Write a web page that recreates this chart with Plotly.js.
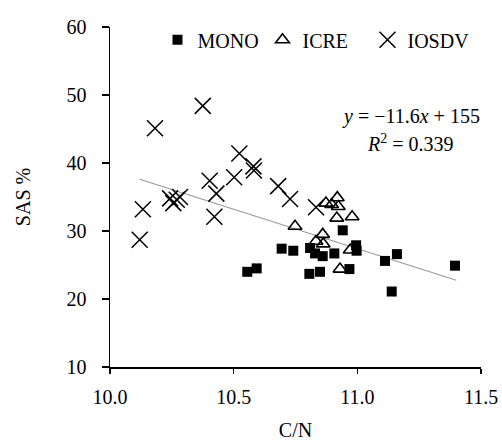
<!DOCTYPE html>
<html>
<head>
<meta charset="utf-8">
<script src="https://cdn.plot.ly/plotly-3.0.1.min.js"></script>
<style>html,body{margin:0;padding:0;background:#fff;}#chart{width:502px;height:441px;}</style>
</head>
<body>
<div id="chart"></div>
<script>
// MONO series
const monoX = [10.555, 10.593, 10.694, 10.741, 10.806, 10.809, 10.829, 10.849, 10.86, 10.907, 10.941, 10.968, 10.995, 10.997, 11.112, 11.139, 11.16, 11.395];
const monoY = [24.0, 24.5, 27.4, 27.1, 23.7, 27.5, 26.7, 24.0, 26.3, 26.7, 30.1, 24.4, 27.9, 27.1, 25.6, 21.1, 26.6, 24.9];
// ICRE series
const icreX = [10.748, 10.873, 10.896, 10.919, 10.923, 10.917, 10.979, 10.86, 10.833, 10.862, 10.971, 10.93];
const icreY = [30.7, 34.1, 33.9, 34.9, 33.6, 31.9, 32.1, 29.5, 28.5, 28.1, 27.2, 24.4];
// IOSDV series
const iosdvX = [10.12, 10.133, 10.182, 10.243, 10.256, 10.27, 10.283, 10.375, 10.403, 10.422, 10.43, 10.502, 10.523, 10.58, 10.582, 10.68, 10.728, 10.833];
const iosdvY = [28.7, 33.2, 45.1, 34.8, 34.1, 34.6, 35.0, 48.4, 37.4, 32.1, 35.5, 37.9, 41.4, 39.5, 38.9, 36.6, 34.7, 33.5];
// Regression: y = -11.6x + 155
const slope = -11.6, intercept = 155;
const trendX = [10.12, 11.4];
const trendY = trendX.map(v => slope * v + intercept);
// Ticks
const xTicks = [10.0, 10.5, 11.0, 11.5];
const yTicks = [10, 20, 30, 40, 50, 60];

const serif = "'Liberation Serif', 'DejaVu Serif', serif";
const fs = 20;

const traces = [
  {x: trendX, y: trendY, mode: 'lines', line: {color: '#9a9a9a', width: 1.2}, showlegend: false, hoverinfo: 'skip'},
  {x: monoX, y: monoY, mode: 'markers', name: 'MONO', marker: {symbol: 'square', size: 10, color: '#000'}},
  {x: icreX, y: icreY, mode: 'markers', name: 'ICRE', marker: {symbol: 'triangle-up-open', size: 12, color: '#000', line: {width: 1.6, color: '#000'}}},
  {x: iosdvX, y: iosdvY, mode: 'markers', name: 'IOSDV', marker: {symbol: 'x-thin-open', size: 16, color: '#000', line: {width: 1.5, color: '#000'}}}
];

const layout = {
  width: 502, height: 441,
  margin: {l: 110, r: 21, t: 27, b: 74},
  paper_bgcolor: '#fff', plot_bgcolor: '#fff',
  font: {family: serif, size: fs, color: '#000'},
  showlegend: true,
  legend: {orientation: 'h', x: 0.128, y: 1.02, xanchor: 'left', yanchor: 'top', entrywidth: 60, entrywidthmode: 'pixels', font: {family: serif, size: fs}, bgcolor: 'rgba(0,0,0,0)'},
  xaxis: {
    range: [10.0, 11.5], tickvals: xTicks, ticktext: xTicks.map(v => v.toFixed(1)),
    showline: true, linecolor: '#000', linewidth: 1.5, ticks: 'outside', ticklen: 5, tickwidth: 1.5, tickcolor: '#000',
    ticklabelstandoff: 6,
    showgrid: false, zeroline: false, mirror: false,
    title: {text: 'C/N', font: {family: serif, size: fs}, standoff: 22}
  },
  yaxis: {
    range: [10, 60], tickvals: yTicks,
    showline: true, linecolor: '#000', linewidth: 1.5, ticks: 'outside', ticklen: 7, tickwidth: 1.5, tickcolor: '#000',
    ticklabelstandoff: 11,
    showgrid: false, zeroline: false, mirror: false,
    title: {text: 'SAS %', font: {family: serif, size: fs}, standoff: 30}
  },
  annotations: [
    {xref: 'paper', yref: 'paper', x: 0.81, y: 0.738, xanchor: 'center', yanchor: 'middle', text: '<i>y</i> = −11.6<i>x</i> + 155', showarrow: false, font: {family: serif, size: fs}},
    {xref: 'paper', yref: 'paper', x: 0.81, y: 0.659, xanchor: 'center', yanchor: 'middle', text: '<i>R</i><sup>2</sup> = 0.339', showarrow: false, font: {family: serif, size: fs}}
  ]
};

Plotly.newPlot('chart', traces, layout, {displayModeBar: false, staticPlot: true});
</script>
</body>
</html>
